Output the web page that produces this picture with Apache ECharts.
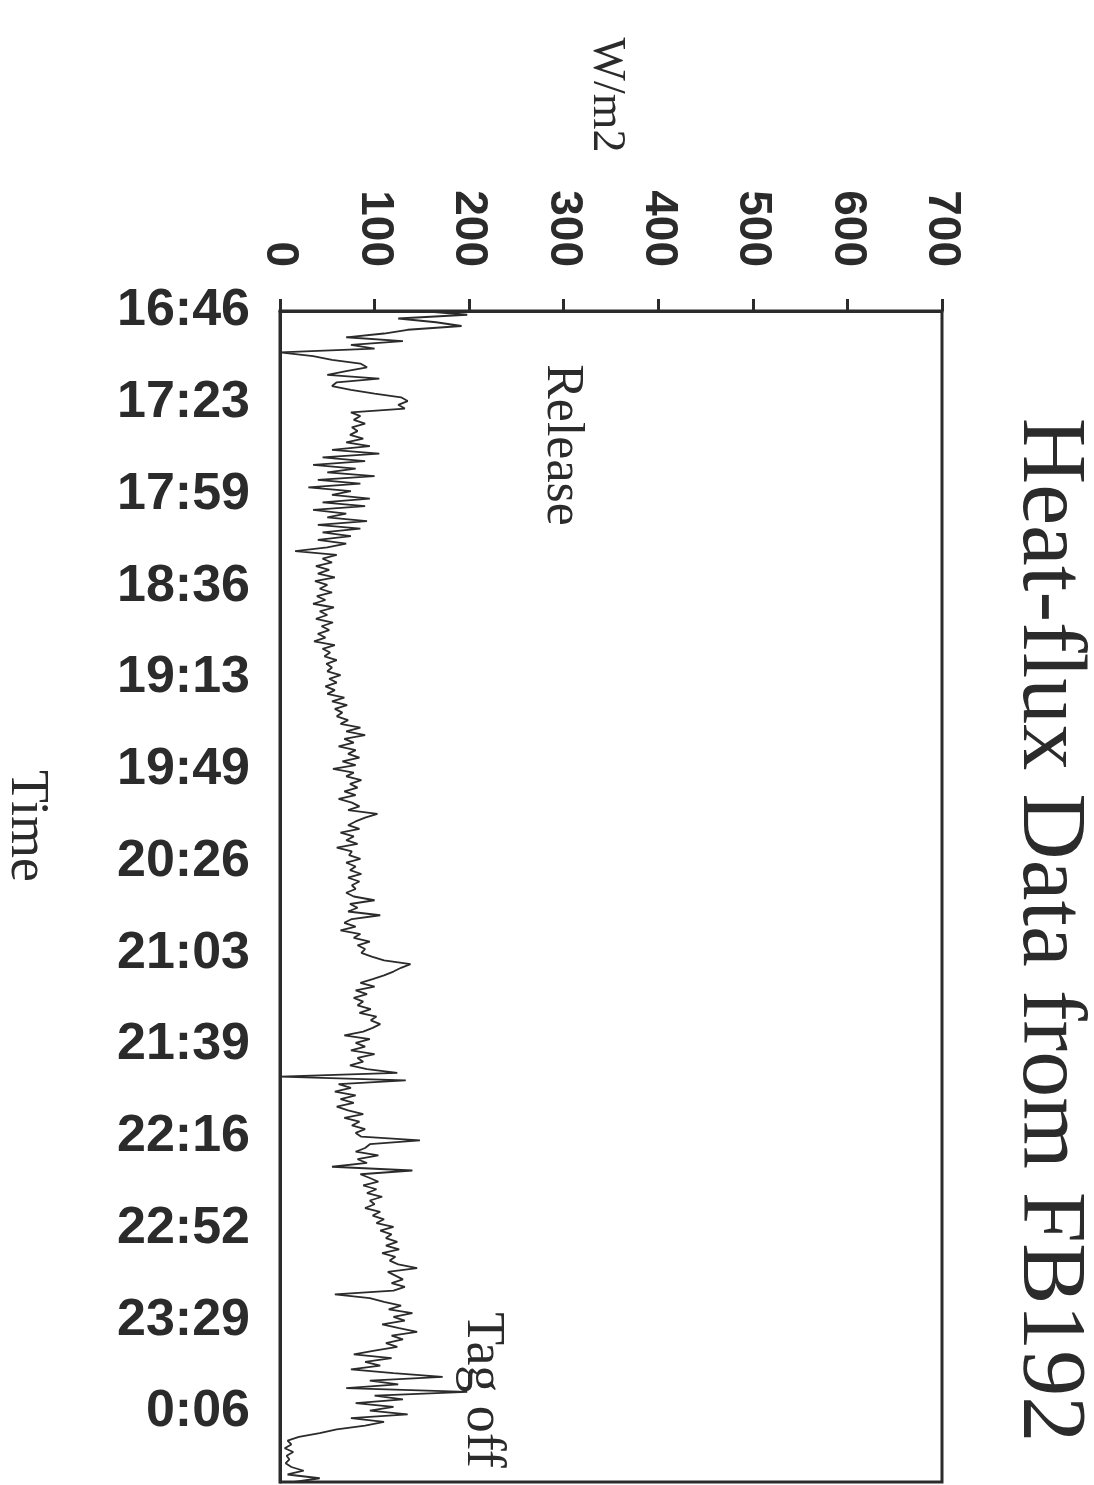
<!DOCTYPE html>
<html>
<head>
<meta charset="utf-8">
<title>Heat-flux Data from FB192</title>
<script src="https://cdn.jsdelivr.net/npm/echarts/dist/echarts.min.js"></script>
<style>
  html, body { margin: 0; padding: 0; background: #fff; }
  #chart { width: 1094px; height: 1485px; }
</style>
</head>
<body>
<div id="chart"></div>
<script>
// time labels on the left axis (one every 36 min 40 s from 16:46)
var timeLabels = ['16:46', '17:23', '17:59', '18:36', '19:13', '19:49', '20:26',
                  '21:03', '21:39', '22:16', '22:52', '23:29', '0:06'];
var tickStepMin = 440 / 12;
var sampleStepMin = 1.5;   // one reading per 1.5 min
var endMin = 468;

// heat flux readings, W/m2
var fluxValues = [
  150,198,125,165,192,135,110,70,130,75,100,0,35,55,85,92,
  70,50,105,60,55,75,100,128,135,125,132,75,85,78,90,76,
  82,74,88,70,95,55,105,45,90,35,80,50,100,40,85,30,
  75,55,95,45,90,35,70,50,92,40,85,45,75,40,70,50,
  16,60,45,55,38,52,40,58,37,50,42,55,39,48,35,57,
  42,50,38,56,44,52,40,48,36,58,45,53,47,60,49,55,
  50,64,52,60,48,58,50,68,55,71,58,66,60,72,64,85,
  70,90,68,78,62,80,72,84,66,80,56,78,70,86,74,82,
  68,80,62,76,84,72,103,90,80,72,84,64,78,70,82,60,
  76,73,85,70,80,74,86,72,84,76,80,70,78,100,74,82,
  72,106,76,68,80,64,85,78,95,82,90,86,97,110,138,128,
  120,110,98,85,100,80,92,78,88,82,96,84,102,96,106,98,
  88,68,95,80,90,75,100,82,88,74,92,124,0,133,62,75,
  58,80,64,78,60,72,88,68,84,76,90,80,86,148,95,90,
  80,104,82,92,55,140,85,95,104,88,102,92,108,95,100,90,
  106,98,110,102,120,106,118,112,124,112,126,108,122,116,125,145,
  114,122,130,118,132,120,58,95,110,128,115,140,120,132,108,126,
  145,118,130,112,124,100,78,118,90,106,75,120,172,95,125,70,
  198,100,130,80,120,95,135,75,110,90,60,42,20,8,12,5,
  14,7,10,6,12,25,8,42,15
];

var seriesData = [];
for (var i = 0; i < fluxValues.length; i++) {
  seriesData.push([fluxValues[i], i * sampleStepMin]);
}

var ink = '#2b2b2b';
var chart = echarts.init(document.getElementById('chart'));

var option = {
  backgroundColor: '#fff',
  animation: false,
  grid: {
    left: 280, top: 311, width: 662, height: 1171,
    show: true, borderColor: ink, borderWidth: 3,
    outerBoundsMode: 'none'
  },
  xAxis: {
    type: 'value',
    position: 'top',
    min: 0, max: 700, interval: 100,
    axisLine: { show: true, lineStyle: { color: ink, width: 3 } },
    axisTick: { show: true, length: 12, lineStyle: { color: ink, width: 3 } },
    axisLabel: {
      rotate: -90, margin: 44,
      fontSize: 46, fontWeight: 'bold', fontFamily: 'Liberation Sans',
      color: ink
    },
    splitLine: { show: false }
  },
  yAxis: {
    type: 'value',
    inverse: true,
    min: 0, max: endMin, interval: tickStepMin,
    axisLine: { show: true, lineStyle: { color: ink, width: 3 } },
    axisTick: { show: false },
    axisLabel: {
      margin: 30,
      fontSize: 52, fontWeight: 'bold', fontFamily: 'Liberation Sans',
      color: ink,
      formatter: function (v) {
        var k = Math.round(v / tickStepMin);
        if (Math.abs(v - k * tickStepMin) > 0.5 || k >= timeLabels.length) return '';
        return timeLabels[k];
      }
    },
    splitLine: { show: false }
  },
  series: [{
    type: 'line',
    data: seriesData,
    showSymbol: false,
    symbol: 'none',
    smooth: false,
    lineStyle: { color: ink, width: 1.8 }
  }],
  graphic: [
    {
      type: 'text', x: 1048, y: 930, rotation: -Math.PI / 2,
      style: { text: 'Heat-flux Data from FB192', fontSize: 92, fontFamily: 'Liberation Serif',
        fill: ink, align: 'center', verticalAlign: 'middle', textAlign: 'center', textVerticalAlign: 'middle' }
    },
    {
      type: 'text', x: 606, y: 95, rotation: -Math.PI / 2,
      style: { text: 'W/m2', fontSize: 46, fontFamily: 'Liberation Serif',
        fill: ink, align: 'center', verticalAlign: 'middle', textAlign: 'center', textVerticalAlign: 'middle' }
    },
    {
      type: 'text', x: 26, y: 826, rotation: -Math.PI / 2,
      style: { text: 'Time', fontSize: 54, fontFamily: 'Liberation Serif',
        fill: ink, align: 'center', verticalAlign: 'middle', textAlign: 'center', textVerticalAlign: 'middle' }
    },
    {
      type: 'text', x: 562, y: 445, rotation: -Math.PI / 2,
      style: { text: 'Release', fontSize: 52, fontFamily: 'Liberation Serif',
        fill: ink, align: 'center', verticalAlign: 'middle', textAlign: 'center', textVerticalAlign: 'middle' }
    },
    {
      type: 'text', x: 482, y: 1390, rotation: -Math.PI / 2,
      style: { text: 'Tag off', fontSize: 54, fontFamily: 'Liberation Serif',
        fill: ink, align: 'center', verticalAlign: 'middle', textAlign: 'center', textVerticalAlign: 'middle' }
    }
  ]
};

chart.setOption(option);
</script>
</body>
</html>
